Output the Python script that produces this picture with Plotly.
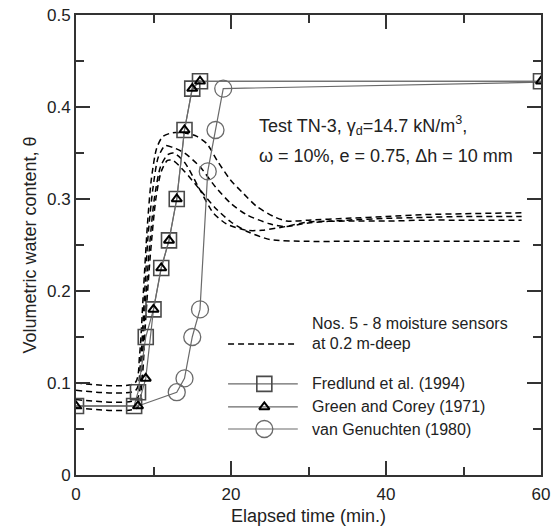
import plotly.graph_objects as go

# --- Model predictions -------------------------------------------------------
fred_t = [0, 7.5, 8, 9, 10, 11, 12, 13, 14, 15, 16, 60]
fred_theta = [0.075, 0.075, 0.09, 0.15, 0.18, 0.225, 0.255, 0.30, 0.375, 0.42, 0.428, 0.428]

gc_t = [0, 8, 9, 10, 11, 12, 13, 14, 15, 16, 60]
gc_theta = [0.075, 0.075, 0.105, 0.18, 0.225, 0.255, 0.30, 0.375, 0.42, 0.428, 0.428]

vg_t = [0, 8, 13, 14, 15, 16, 17, 18, 19, 60]
vg_theta = [0.075, 0.075, 0.09, 0.105, 0.15, 0.18, 0.33, 0.375, 0.42, 0.427]

# --- Measured moisture sensors Nos. 5-8 (0.2 m deep) -------------------------
s5_t = [0, 7.6, 8.2, 8.7, 9.2, 9.7, 10.4, 11.2, 12.5, 14.5, 15.6, 16.9, 18.2, 19.9, 21.6, 23.3, 25.5, 27.2, 30, 35, 40, 45, 50, 57.5]
s5_theta = [0.100, 0.100, 0.13, 0.20, 0.27, 0.32, 0.355, 0.368, 0.372, 0.371, 0.368, 0.360, 0.342, 0.321, 0.306, 0.292, 0.281, 0.276, 0.277, 0.279, 0.281, 0.283, 0.284, 0.285]

s6_t = [0, 7.7, 8.3, 8.8, 9.3, 9.9, 10.6, 11.5, 12.5, 14, 16, 18, 20, 22, 25, 27, 30, 35, 40, 45, 50, 57.5]
s6_theta = [0.092, 0.092, 0.12, 0.19, 0.26, 0.31, 0.345, 0.358, 0.356, 0.350, 0.335, 0.313, 0.295, 0.283, 0.273, 0.270, 0.274, 0.277, 0.279, 0.280, 0.281, 0.281]

s7_t = [0, 7.8, 8.4, 8.9, 9.5, 10.1, 10.9, 11.8, 12.6, 14, 15.8, 17.7, 19.4, 22, 24, 27, 30, 35, 40, 45, 50, 57.5]
s7_theta = [0.082, 0.082, 0.11, 0.18, 0.25, 0.30, 0.335, 0.348, 0.350, 0.340, 0.313, 0.285, 0.273, 0.266, 0.266, 0.270, 0.275, 0.276, 0.276, 0.277, 0.277, 0.277]

s8_t = [0, 7.9, 8.5, 9.0, 9.6, 10.3, 11.0, 11.8, 12.5, 14, 16, 18, 20, 22, 25, 30, 35, 40, 45, 50, 57.5]
s8_theta = [0.073, 0.073, 0.10, 0.17, 0.24, 0.30, 0.33, 0.342, 0.342, 0.330, 0.310, 0.290, 0.275, 0.265, 0.256, 0.254, 0.254, 0.254, 0.254, 0.254, 0.254]

sensors = [(s5_t, s5_theta), (s6_t, s6_theta), (s7_t, s7_theta), (s8_t, s8_theta)]

x_ticks = [0, 20, 40, 60]
y_ticks = [0, 0.1, 0.2, 0.3, 0.4, 0.5]
y_tick_text = ["0", "0.1", "0.2", "0.3", "0.4", "0.5"]

FONT = "Liberation Sans, Arial, sans-serif"
LINE_GREY = "#6a6a6a"
AXIS_GREY = "#333333"
TEXT = "#222222"

fig = go.Figure()

for t, th in sensors:
    fig.add_trace(go.Scatter(
        x=t, y=th, mode="lines",
        line=dict(color="black", width=1.5, dash="6px,4px", shape="spline", smoothing=0.7),
        showlegend=False, hoverinfo="skip"))

# van Genuchten: connecting line through all vertices, circles on computed points
fig.add_trace(go.Scatter(
    x=vg_t, y=vg_theta, mode="lines",
    line=dict(color=LINE_GREY, width=1.2), showlegend=False))
fig.add_trace(go.Scatter(
    x=vg_t[2:-1], y=vg_theta[2:-1], mode="markers",
    marker=dict(symbol="circle-open", size=17, color=LINE_GREY, line=dict(width=1.3)),
    showlegend=False))

fig.add_trace(go.Scatter(
    x=fred_t, y=fred_theta, mode="lines+markers",
    line=dict(color=LINE_GREY, width=1.2),
    marker=dict(symbol="square-open", size=15, color="#4a4a4a", line=dict(width=1.6)),
    showlegend=False))

fig.add_trace(go.Scatter(
    x=gc_t, y=gc_theta, mode="lines+markers",
    line=dict(color=LINE_GREY, width=1.2),
    marker=dict(symbol="triangle-up-open", size=9, color="black", line=dict(width=2)),
    showlegend=False))

# --- Legend block, drawn on an overlay axis spanning the plotting area ------
leg_x0, leg_x1, leg_xm, leg_text_x = 0.327, 0.477, 0.405, 0.503
fig.add_trace(go.Scatter(
    x=[leg_x0, leg_x1], y=[0.285, 0.285], mode="lines",
    line=dict(color="black", width=1.5, dash="6px,4px"),
    xaxis="x2", yaxis="y2", showlegend=False, hoverinfo="skip"))
legend_rows = [
    (0.198, "square-open", 15, "#4a4a4a", 1.6, "Fredlund et al. (1994)"),
    (0.148, "triangle-up-open", 9, "black", 2, "Green and Corey (1971)"),
    (0.100, "circle-open", 17, LINE_GREY, 1.3, "van Genuchten (1980)"),
]
for yv, sym, size, col, lw, label in legend_rows:
    fig.add_trace(go.Scatter(
        x=[leg_x0, leg_xm, leg_x1], y=[yv, yv, yv], mode="lines",
        line=dict(color=LINE_GREY, width=1.2),
        xaxis="x2", yaxis="y2", showlegend=False, hoverinfo="skip"))
    fig.add_trace(go.Scatter(
        x=[leg_xm], y=[yv], mode="markers",
        marker=dict(symbol=sym, size=size, color=col, line=dict(width=lw)),
        xaxis="x2", yaxis="y2", showlegend=False, hoverinfo="skip"))
    fig.add_annotation(x=leg_text_x, y=yv, xref="x2", yref="y2", text=label,
                       showarrow=False, xanchor="left", yanchor="middle",
                       font=dict(size=16, color=TEXT, family=FONT))

fig.add_annotation(x=leg_text_x, y=0.330, xref="x2", yref="y2",
                   text="Nos. 5 - 8 moisture sensors", showarrow=False,
                   xanchor="left", yanchor="middle",
                   font=dict(size=16, color=TEXT, family=FONT))
fig.add_annotation(x=leg_text_x, y=0.285, xref="x2", yref="y2",
                   text="at 0.2 m-deep", showarrow=False,
                   xanchor="left", yanchor="middle",
                   font=dict(size=16, color=TEXT, family=FONT))

# --- Test description --------------------------------------------------------
fig.add_annotation(x=23.4, y=0.380, xref="x", yref="y",
                   text="Test TN-3, γ<sub>d</sub>=14.7 kN/m<sup>3</sup>,",
                   showarrow=False, xanchor="left", yanchor="middle",
                   font=dict(size=18, color=TEXT, family=FONT))
fig.add_annotation(x=23.4, y=0.347, xref="x", yref="y",
                   text="ω = 10%, e = 0.75, Δh = 10 mm",
                   showarrow=False, xanchor="left", yanchor="middle",
                   font=dict(size=18, color=TEXT, family=FONT))

axis_common = dict(
    showline=True, linecolor=AXIS_GREY, linewidth=2, mirror="ticks",
    ticks="inside", tickcolor=AXIS_GREY, tickwidth=1.6, ticklen=14,
    showgrid=False, zeroline=False, automargin=False,
    tickfont=dict(size=17, color=TEXT, family=FONT),
)

fig.update_layout(
    width=560, height=531,
    margin=dict(l=76, r=19, t=15, b=56),
    paper_bgcolor="white", plot_bgcolor="white",
    font=dict(family=FONT, color=TEXT),
    xaxis=dict(range=[0, 60], tickvals=x_ticks, ticklabelstandoff=3,
               minor=dict(ticks="inside", dtick=10, ticklen=8, tickcolor=AXIS_GREY, tickwidth=1.6),
               title=dict(text="Elapsed time (min.)", font=dict(size=18, family=FONT, color=TEXT), standoff=6),
               **axis_common),
    yaxis=dict(range=[0, 0.5], tickvals=y_ticks, ticktext=y_tick_text,
               minor=dict(ticks="inside", dtick=0.05, ticklen=8, tickcolor=AXIS_GREY, tickwidth=1.6),
               title=dict(text="Volumetric water content, θ", font=dict(size=18, family=FONT, color=TEXT), standoff=6),
               **axis_common),
    xaxis2=dict(overlaying="x", range=[0, 1], visible=False, fixedrange=True),
    yaxis2=dict(overlaying="y", range=[0, 1], visible=False, fixedrange=True),
)

fig.write_html("out.html")
